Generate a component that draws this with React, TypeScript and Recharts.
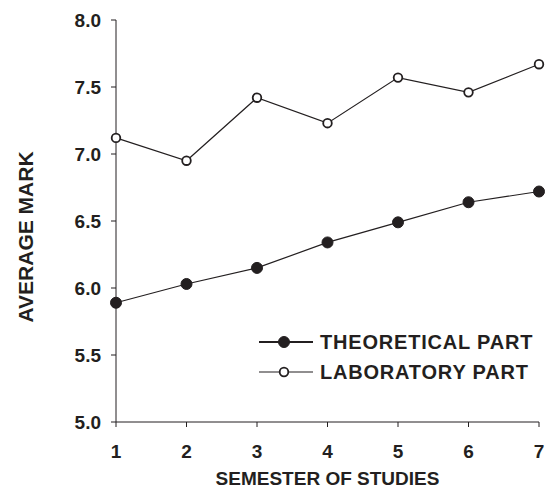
import React from 'react';
import { LineChart, Line, XAxis, YAxis } from 'recharts';

const semesters = [1, 2, 3, 4, 5, 6, 7];
const theoretical = [5.89, 6.03, 6.15, 6.34, 6.49, 6.64, 6.72];
const laboratory = [7.12, 6.95, 7.42, 7.23, 7.57, 7.46, 7.67];
const yTicks = [5.0, 5.5, 6.0, 6.5, 7.0, 7.5, 8.0];

const INK = '#231f20';
const FONT = '"Liberation Sans", Arial, sans-serif';

const data = semesters.map((s, i) => ({
  semester: s,
  theoretical: theoretical[i],
  laboratory: laboratory[i],
}));

const legendItems = [
  { label: 'THEORETICAL PART', filled: true, width: 2 },
  { label: 'LABORATORY PART', filled: false, width: 1.2 },
];

// legend sits inside the plot, bottom right
const ChartLegend = () => (
  <div
    style={{
      position: 'absolute',
      left: 257,
      top: 327,
      fontFamily: FONT,
      fontWeight: 700,
      fontSize: 20,
      letterSpacing: 0.8,
      color: INK,
      whiteSpace: 'nowrap',
    }}
  >
    {legendItems.map((item) => (
      <div key={item.label} style={{ display: 'flex', alignItems: 'center', height: 30 }}>
        <svg width={58} height={14} style={{ marginRight: 5 }}>
          <line x1={2} y1={7} x2={56} y2={7} stroke={INK} strokeWidth={item.width} />
          <circle
            cx={27}
            cy={7}
            r={item.filled ? 5.5 : 4.3}
            fill={item.filled ? INK : '#fff'}
            stroke={INK}
            strokeWidth={item.filled ? 1 : 1.8}
          />
        </svg>
        <span>{item.label}</span>
      </div>
    ))}
  </div>
);

// rotated y title, a bit below the plot middle like the original
const YTitle = (props: any) => {
  const { x, y, height } = props.viewBox;
  const cx = x + 25.5;
  const cy = y + height / 2 + 16;
  return (
    <text
      x={cx}
      y={cy}
      transform={`rotate(-90, ${cx}, ${cy})`}
      textAnchor="middle"
      dominantBaseline="central"
      fill={INK}
      fontSize={21}
      fontWeight={700}
      fontFamily={FONT}
    >
      AVERAGE MARK
    </text>
  );
};

const App: React.FC = () => {
  const tickStyle = { fill: INK, fontSize: 19, fontWeight: 700, fontFamily: FONT };
  return (
    <div style={{ position: 'absolute', left: 0, top: 0, width: 547, height: 490 }}>
      <LineChart
        width={547}
        height={490}
        data={data}
        margin={{ top: 20, right: 8, left: 0, bottom: 0 }}
      >
        <XAxis
          dataKey="semester"
          type="number"
          domain={[1, 7]}
          ticks={semesters}
          height={68}
          tick={tickStyle}
          tickSize={5}
          tickMargin={18}
          stroke={INK}
          label={{
            value: 'SEMESTER OF STUDIES',
            position: 'insideBottom',
            offset: 5,
            style: { fill: INK, fontSize: 19, fontWeight: 700, fontFamily: FONT },
          }}
        />
        <YAxis
          type="number"
          domain={[5, 8]}
          ticks={yTicks}
          tickFormatter={(v: number) => v.toFixed(1)}
          width={116}
          tick={tickStyle}
          tickSize={5}
          tickMargin={10}
          stroke={INK}
          label={<YTitle />}
        />
        <Line
          dataKey="laboratory"
          stroke={INK}
          strokeWidth={1.2}
          dot={{ r: 4.3, fill: '#fff', stroke: INK, strokeWidth: 1.8 }}
          isAnimationActive={false}
        />
        <Line
          dataKey="theoretical"
          stroke={INK}
          strokeWidth={1.2}
          dot={{ r: 5.5, fill: INK, stroke: INK, strokeWidth: 1 }}
          isAnimationActive={false}
        />
      </LineChart>
      <ChartLegend />
    </div>
  );
};

export default App;
